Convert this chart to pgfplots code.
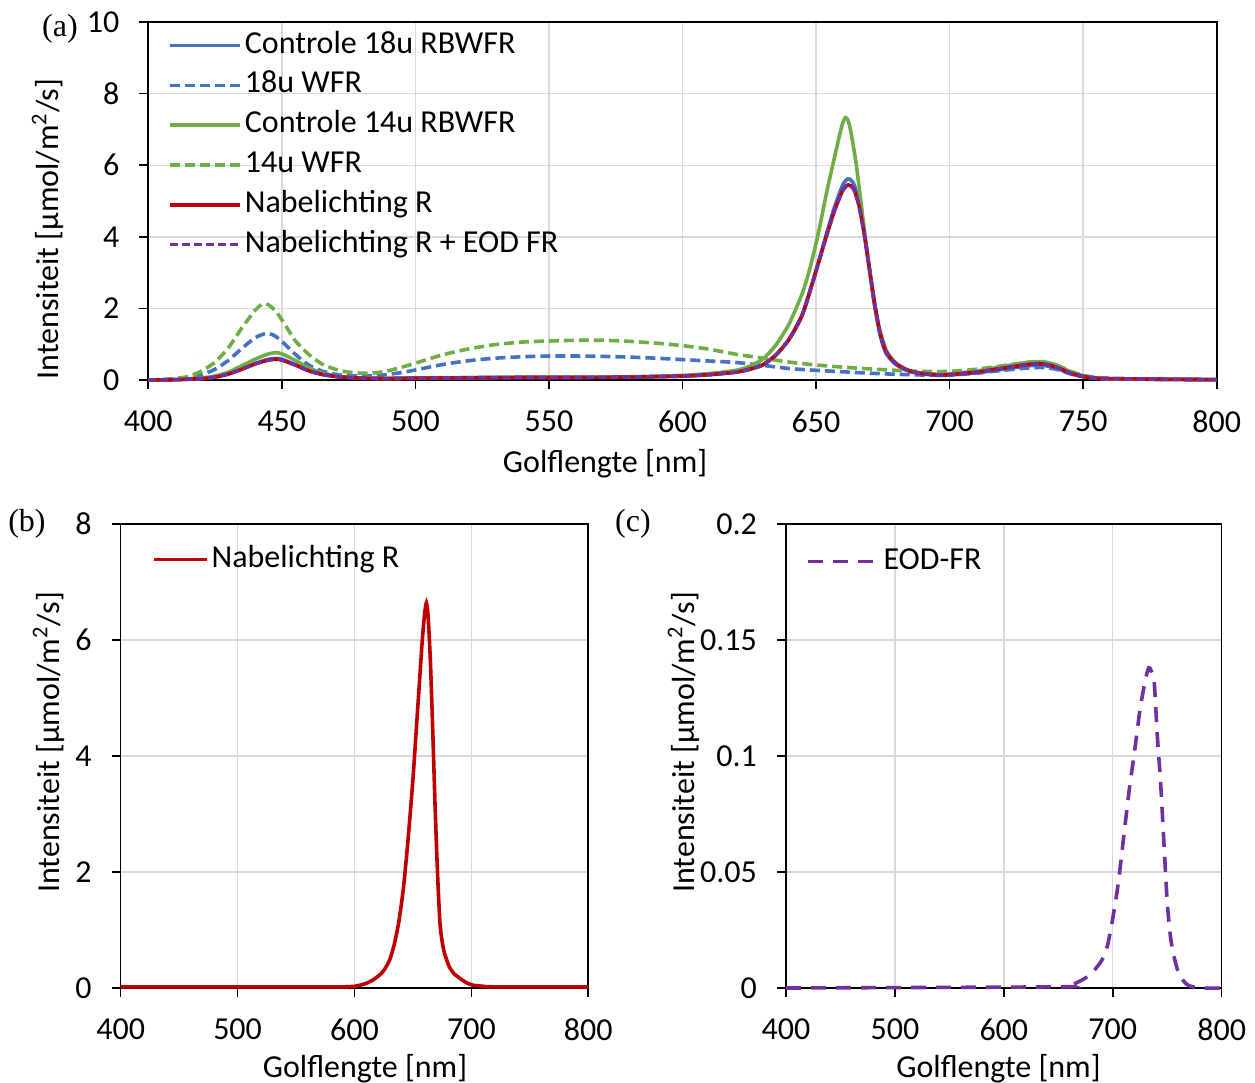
\documentclass[border=0pt]{standalone}
\usepackage{pgfplots}
\pgfplotsset{compat=1.18}
\usepackage{fontspec}
\setmainfont{Carlito}
\newfontfamily\serifpanel{Liberation Serif}

\definecolor{cblue}{HTML}{4472C4}
\definecolor{cgreen}{HTML}{70AD47}
\definecolor{cred}{HTML}{C00000}
\definecolor{cpurple}{HTML}{7030A0}
\definecolor{gridgrey}{HTML}{D9D9D9}

% Nabelichting R, panel (a)
\pgfplotstableread{
x y
400 0.00
410 0.01
420 0.04
425 0.08
430 0.17
435 0.30
440 0.45
445 0.56
448 0.58
450 0.56
455 0.42
460 0.26
465 0.16
470 0.10
475 0.07
480 0.05
490 0.04
500 0.05
520 0.06
540 0.07
560 0.07
580 0.08
600 0.11
610 0.15
620 0.22
625 0.30
630 0.42
635 0.70
640 1.15
645 1.85
650 3.05
654 4.05
657 4.75
660 5.30
662 5.45
664 5.35
666 4.90
668 4.10
670 3.10
672 2.10
674 1.30
676 0.82
678 0.60
680 0.45
683 0.32
686 0.23
690 0.18
696 0.14
700 0.15
710 0.22
720 0.33
730 0.44
735 0.45
740 0.36
745 0.20
750 0.10
755 0.05
760 0.04
780 0.02
800 0.01
}\redA

% Controle 18u RBWFR
\pgfplotstableread{
x y
400 0.00
410 0.01
420 0.04
425 0.08
430 0.17
435 0.31
440 0.46
445 0.58
448 0.60
450 0.58
455 0.43
460 0.27
465 0.16
470 0.10
475 0.07
480 0.05
490 0.04
500 0.05
520 0.06
540 0.07
560 0.07
580 0.08
600 0.11
610 0.15
620 0.22
625 0.30
630 0.42
635 0.70
640 1.15
645 1.85
650 3.05
654 4.10
657 4.85
660 5.45
662 5.62
664 5.50
666 5.00
668 4.15
670 3.10
672 2.05
674 1.25
676 0.78
678 0.57
680 0.43
683 0.30
686 0.22
690 0.17
696 0.13
700 0.14
710 0.20
720 0.30
730 0.40
735 0.41
740 0.33
745 0.18
750 0.09
755 0.05
760 0.03
780 0.02
800 0.01
}\blueA

% 18u WFR
\pgfplotstableread{
x y
400 0.00
405 0.01
410 0.03
415 0.07
420 0.15
425 0.30
430 0.55
435 0.88
440 1.18
444 1.30
447 1.25
450 1.08
455 0.72
460 0.42
465 0.25
470 0.16
475 0.12
480 0.11
485 0.12
490 0.16
495 0.21
500 0.28
510 0.43
520 0.54
530 0.61
540 0.65
550 0.67
560 0.67
570 0.66
580 0.64
590 0.61
600 0.57
610 0.53
620 0.49
630 0.41
640 0.32
650 0.27
660 0.23
670 0.19
680 0.16
690 0.14
700 0.14
710 0.19
720 0.27
730 0.34
735 0.35
740 0.30
745 0.18
750 0.10
755 0.05
760 0.03
780 0.02
800 0.01
}\bluedA

% Controle 14u RBWFR
\pgfplotstableread{
x y
400 0.00
410 0.01
420 0.06
425 0.11
430 0.22
435 0.40
440 0.58
445 0.73
448 0.76
450 0.73
455 0.55
460 0.34
465 0.20
470 0.12
475 0.08
480 0.06
490 0.05
500 0.06
520 0.07
540 0.08
560 0.08
580 0.09
600 0.13
610 0.18
620 0.27
625 0.38
630 0.58
635 0.98
640 1.58
645 2.45
648 3.20
651 4.15
654 5.25
657 6.25
659 6.90
660 7.18
661 7.33
662 7.25
663 6.95
665 6.05
667 4.85
669 3.65
671 2.55
673 1.65
676 0.88
678 0.63
680 0.47
683 0.32
686 0.24
690 0.19
696 0.16
700 0.17
710 0.25
720 0.38
730 0.50
735 0.51
740 0.42
745 0.24
750 0.12
755 0.06
760 0.04
780 0.02
800 0.01
}\greenA

% 14u WFR
\pgfplotstableread{
x y
400 0.00
405 0.01
410 0.04
415 0.10
420 0.25
425 0.50
430 0.90
435 1.45
440 1.95
443 2.13
445 2.10
448 1.90
452 1.45
455 1.10
460 0.72
465 0.45
470 0.30
475 0.22
480 0.19
485 0.20
490 0.26
495 0.36
500 0.47
510 0.70
520 0.87
530 0.99
540 1.06
550 1.09
560 1.11
570 1.11
580 1.08
590 1.03
600 0.96
610 0.86
620 0.72
630 0.61
640 0.50
650 0.42
660 0.36
670 0.31
680 0.27
690 0.24
700 0.24
710 0.30
720 0.40
730 0.50
735 0.50
740 0.42
745 0.25
750 0.13
755 0.07
760 0.04
780 0.02
800 0.01
}\greendA

% panel (b)
\pgfplotstableread{
x y
400 0.02
450 0.02
500 0.02
550 0.02
590 0.02
600 0.03
605 0.05
610 0.08
615 0.13
620 0.20
625 0.30
630 0.48
634 0.75
638 1.15
642 1.75
646 2.60
650 3.60
653 4.50
656 5.40
658 6.00
660 6.45
661.5 6.64
663 6.40
665 5.60
667 4.40
669 3.10
671 2.00
673 1.15
675 0.80
677 0.60
681 0.37
685 0.25
690 0.17
695 0.10
701 0.05
710 0.03
720 0.02
800 0.02
}\redB

% panel (c)
\pgfplotstableread{
x y
400 0
650 0.0005
660 0.001
670 0.003
680 0.006
690 0.012
695 0.018
700 0.030
705 0.045
710 0.065
715 0.085
720 0.102
725 0.120
730 0.133
733 0.138
735 0.137
738 0.132
741 0.108
744 0.088
747 0.062
750 0.037
753 0.022
756 0.014
760 0.007
765 0.003
770 0.001
780 0
800 0
}\fr

\pgfplotsset{
  panel/.style={
    scale only axis, clip=false,
    axis line style={black, line width=0.8pt},
    tick pos=left, tick align=outside, major tick length=4.5pt,
    tick style={black, line width=0.8pt},
    grid=major, grid style={gridgrey, line width=0.7pt},
    /pgf/number format/assume math mode=true,
    xticklabel style={yshift=-5.5pt},
    yticklabel style={xshift=-4.5pt},
    legend cell align=left,
    legend style={draw=none, fill=none, inner sep=0pt, outer sep=0pt,
      nodes={inner sep=0pt, text height=10.5pt, text depth=3pt},
      row sep=6.4pt, column sep=1.5pt},
    every axis y label/.style={rotate=90, anchor=center},
    every axis x label/.style={anchor=center},
  },
  lw/.style={line width=1.8pt, smooth, tension=0.4},
}

\begin{document}
\fontsize{16}{19}\selectfont
\begin{tikzpicture}

% (a)
\begin{axis}[panel,
  at={(74.15pt,-190pt)}, anchor=south west,
  width=534.2pt, height=179pt,
  xmin=400, xmax=800, ymin=0, ymax=10,
  xtick={400,450,...,800}, ytick={0,2,...,10},
  xlabel={Golflengte [nm]}, ylabel={Intensiteit [µmol/m\textsuperscript{2}/s]},
  x label style={at={(axis description cs:0.4275,-0.2346)}},
  y label style={at={(axis description cs:-0.0939,0.4218)}},
  legend image code/.code={\draw[#1] (0pt,0pt) -- (35pt,0pt);},
  legend style={at={(axis description cs:0.0187,0.972)}, anchor=north west},
]
\addplot[cblue, lw] table {\blueA};
\addplot[cblue, lw, dash pattern=on 5pt off 2.5pt] table {\bluedA};
\addplot[cgreen, lw] table {\greenA};
\addplot[cgreen, lw, dash pattern=on 5pt off 2.5pt] table {\greendA};
\addplot[cred, lw] table {\redA};
\addplot[cpurple, lw, dash pattern=on 4pt off 2pt] table {\redA};
\legend{Controle 18u RBWFR, 18u WFR, Controle 14u RBWFR, 14u WFR, Nabelichting R, Nabelichting R + EOD FR}
\end{axis}

% (b)
\begin{axis}[panel,
  at={(60.35pt,-494pt)}, anchor=south west,
  width=233.8pt, height=232pt,
  xmin=400, xmax=800, ymin=0, ymax=8,
  xtick={400,500,...,800}, ytick={0,2,...,8},
  xlabel={Golflengte [nm]}, ylabel={Intensiteit [µmol/m\textsuperscript{2}/s]},
  x label style={at={(axis description cs:0.5225,-0.1736)}},
  y label style={at={(axis description cs:-0.1533,0.5294)}},
  legend image code/.code={\draw[#1] (0pt,0pt) -- (26.5pt,0pt);},
  legend style={at={(axis description cs:0.067,0.9526)}, anchor=north west},
]
\addplot[cred, lw] table {\redB};
\legend{Nabelichting R}
\end{axis}

% (c)
\begin{axis}[panel,
  at={(393pt,-494pt)}, anchor=south west,
  width=217.85pt, height=232pt,
  xmin=400, xmax=800, ymin=0, ymax=0.2,
  xtick={400,500,...,800}, ytick={0,0.05,0.1,0.15,0.2},
  yticklabels={0,0.05,0.1,0.15,0.2}, scaled y ticks=false,
  xlabel={Golflengte [nm]}, ylabel={Intensiteit [µmol/m\textsuperscript{2}/s]},
  x label style={at={(axis description cs:0.4877,-0.1736)}},
  y label style={at={(axis description cs:-0.2341,0.5294)}},
  legend image code/.code={\draw[#1] (0pt,0pt) -- (35.5pt,0pt);},
  legend style={at={(axis description cs:0.0459,0.948)}, anchor=north west},
]
\addplot[cpurple, lw, dash pattern=on 7.5pt off 5pt] table {\fr};
\legend{EOD-FR}
\end{axis}

\node[font=\serifpanel\fontsize{16}{18}\selectfont] at (30pt,-14.5pt) {(a)};
\node[font=\serifpanel\fontsize{16}{18}\selectfont] at (13.5pt,-262pt) {(b)};
\node[font=\serifpanel\fontsize{16}{18}\selectfont] at (316.5pt,-262pt) {(c)};

\pgfresetboundingbox
\path[use as bounding box] (0,0) rectangle (627.5pt,-541.5pt);
\end{tikzpicture}
\end{document}
